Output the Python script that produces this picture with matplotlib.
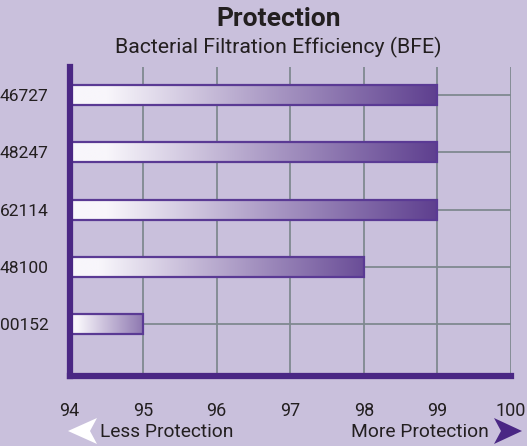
import numpy as np
import matplotlib
matplotlib.use("Agg")
import matplotlib.pyplot as plt
from matplotlib.colors import LinearSegmentedColormap, to_rgb
from matplotlib.patches import Rectangle, Polygon

# data
products = ["00152", "48100", "62114", "48247", "46727"]
bfe = [95, 98, 99, 99, 99]
xticks = [94, 95, 96, 97, 98, 99, 100]
XMIN, XMAX = 94, 100

BG = "#C9C0DC"
SPINE = "#4A2784"
GRID = "#7F8990"
EDGE = "#5A3A94"
TXT = "#231F20"
FONT = ["Roboto", "DejaVu Sans"]

W, H = 527, 446
fig = plt.figure(figsize=(W / 100, H / 100), dpi=100, facecolor=BG)
ax = fig.add_axes([69.5 / W, 1 - 375.5 / H, (511 - 69.5) / W, (375.5 - 67) / H])
ax.set_facecolor(BG)

# grid lines
for x in xticks[1:]:
    ax.axvline(x, color=GRID, lw=1.3, zorder=1)
for i in range(len(products)):
    ax.plot([XMIN, XMAX], [i, i], color=GRID, lw=1.3, zorder=1)

# gradient bars
light = np.array(to_rgb("#F8F6FB"))
dark = np.array(to_rgb("#5E3F8F"))
bh = 0.35
for i, v in enumerate(bfe):
    frac = (v - XMIN) / (XMAX - XMIN)
    end = light + (dark - light) * (0.62 + 0.38 * frac / (5 / 6))
    end = np.clip(end, 0, 1)
    cmap = LinearSegmentedColormap.from_list(
        "g", [(0, light), (0.1, light), (0.45, light + (end - light) * 0.4), (1, end)])
    grad = np.linspace(0, 1, 256).reshape(1, -1)
    ax.imshow(grad, cmap=cmap, aspect="auto", extent=[XMIN, v, i - bh / 2, i + bh / 2],
              zorder=2, interpolation="bilinear")
    ax.add_patch(Rectangle((XMIN, i - bh / 2), v - XMIN, bh, fill=False,
                           edgecolor=EDGE, lw=1.6, zorder=3))

ax.set_xlim(XMIN, XMAX)
ax.set_ylim(-0.9, 4.49)

for s in ["top", "right"]:
    ax.spines[s].set_visible(False)
for s in ["left", "bottom"]:
    ax.spines[s].set_color(SPINE)
    ax.spines[s].set_linewidth(4.5)
    ax.spines[s].set_zorder(4)

ax.set_yticks(range(len(products)))
ax.set_yticklabels(products, family=FONT, fontsize=12.5, color=TXT)
ax.set_xticks(xticks)
ax.set_xticklabels([str(x) for x in xticks], family=FONT, fontsize=13, color=TXT)
ax.tick_params(axis="both", length=0)
ax.tick_params(axis="y", pad=15)
ax.tick_params(axis="x", pad=19)

fig.text(279 / W, 1 - 19 / H, "Protection", ha="center", va="center",
         family=FONT, fontsize=19, fontweight="bold", color=TXT)
fig.text(278 / W, 1 - 47 / H, "Bacterial Filtration Efficiency (BFE)", ha="center",
         va="center", family=FONT, fontsize=15.3, color=TXT)

# direction arrows at the bottom
def px(pts):
    return [(x / W, 1 - y / H) for x, y in pts]

fig.patches.append(Polygon(px([(68, 431), (97, 418), (90, 431), (97, 444)]),
                           closed=True, facecolor="white", edgecolor="none",
                           transform=fig.transFigure, figure=fig))
fig.patches.append(Polygon(px([(522, 431), (494, 418), (501, 431), (494, 444)]),
                           closed=True, facecolor="#4A2784", edgecolor="none",
                           transform=fig.transFigure, figure=fig))
fig.text(100 / W, 1 - 432 / H, "Less Protection", ha="left", va="center",
         family=FONT, fontsize=13.8, color=TXT)
fig.text(489 / W, 1 - 432 / H, "More Protection", ha="right", va="center",
         family=FONT, fontsize=13.8, color=TXT)

fig.savefig("out.png", dpi=100, facecolor=BG)
